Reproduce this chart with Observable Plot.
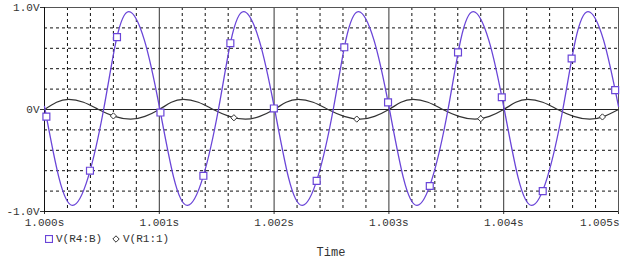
<!DOCTYPE html>
<html>
<head>
<meta charset="utf-8">
<script src="https://cdn.jsdelivr.net/npm/d3@7"></script>
<script src="https://cdn.jsdelivr.net/npm/@observablehq/plot@0.6"></script>
<style>
  body { margin: 0; background: #fff; }
  #wrap { position: relative; width: 624px; height: 268px; font-family: "Liberation Mono", "DejaVu Sans Mono", monospace; color: #333; }
  #wrap svg.plot { position: absolute; left: 0; top: 0; }
  .lg { position: absolute; font-size: 11px; line-height: 14px; white-space: pre; }
</style>
</head>
<body>
<div id="wrap"></div>
<script>
// ---- data ----
const xTicks = [1.000, 1.001, 1.002, 1.003, 1.004, 1.005];
const xTickLabels = ["1.000s", "1.001s", "1.002s", "1.003s", "1.004s", "1.005s"];
const yTicks = [-1, 0, 1];
const yTickLabels = ["-1.0V", "0V", "1.0V"];

// V(R4:B) — blue trace
const blueT = [
  1.000000, 1.000125, 1.000245, 1.000380, 1.000515, 1.000625, 1.000735, 1.000870,
  1.001000, 1.001125, 1.001245, 1.001380, 1.001515, 1.001625, 1.001735, 1.001870,
  1.002000, 1.002125, 1.002245, 1.002380, 1.002515, 1.002625, 1.002735, 1.002870,
  1.003000, 1.003125, 1.003245, 1.003380, 1.003515, 1.003625, 1.003735, 1.003870,
  1.004000, 1.004125, 1.004245, 1.004380, 1.004515, 1.004625, 1.004735, 1.004870,
  1.005000
];
const blueV = [
  0.03, -0.665, -0.94, -0.665, 0.00, 0.68, 0.96, 0.68,
  0.03, -0.665, -0.94, -0.665, 0.00, 0.68, 0.96, 0.68,
  0.03, -0.665, -0.94, -0.665, 0.00, 0.68, 0.96, 0.68,
  0.03, -0.665, -0.94, -0.665, 0.00, 0.68, 0.96, 0.68,
  0.03, -0.665, -0.94, -0.665, 0.00, 0.68, 0.96, 0.68,
  0.03
];
// V(R1:1) — black trace
const blackT = [
  1.000000, 1.000105, 1.000210, 1.000340, 1.000470, 1.000610, 1.000750, 1.000875,
  1.001000, 1.001105, 1.001210, 1.001340, 1.001470, 1.001610, 1.001750, 1.001875,
  1.002000, 1.002105, 1.002210, 1.002340, 1.002470, 1.002610, 1.002750, 1.002875,
  1.003000, 1.003105, 1.003210, 1.003340, 1.003470, 1.003610, 1.003750, 1.003875,
  1.004000, 1.004105, 1.004210, 1.004340, 1.004470, 1.004610, 1.004750, 1.004875,
  1.005000
];
const blackV = [
  0.00, 0.071, 0.10, 0.071, 0.00, -0.067, -0.095, -0.067,
  0.00, 0.071, 0.10, 0.071, 0.00, -0.067, -0.095, -0.067,
  0.00, 0.071, 0.10, 0.071, 0.00, -0.067, -0.095, -0.067,
  0.00, 0.071, 0.10, 0.071, 0.00, -0.067, -0.095, -0.067,
  0.00, 0.071, 0.10, 0.071, 0.00, -0.067, -0.095, -0.067,
  0.00
];
// trace markers
const blueMarkT = [1.0000164, 1.000396, 1.0006316, 1.0010099, 1.001384, 1.001619, 1.001998, 1.0023707,
                   1.0026114, 1.0029925, 1.003356, 1.003602, 1.0039834, 1.00434, 1.0045917, 1.0049708];
const blueMarkV = [-0.07, -0.60, 0.71, -0.03, -0.65, 0.65, 0.01, -0.70, 0.61, 0.07, -0.75, 0.56, 0.12, -0.80, 0.50, 0.19];
const blackMarkT = [1.00060, 1.00165, 1.00272, 1.00380, 1.00486];
const blackMarkV = [-0.063, -0.081, -0.094, -0.090, -0.073];

const seriesNames = ["V(R4:B)", "V(R1:1)"];
const xLabel = "Time";

// ---- build ----
const blue = blueT.map((t, i) => ({t, v: blueV[i]}));
const black = blackT.map((t, i) => ({t, v: blackV[i]}));
const blueM = blueMarkT.map((t, i) => ({t, v: blueMarkV[i]}));
const blackM = blackMarkT.map((t, i) => ({t, v: blackMarkV[i]}));
const yLab = new Map(yTicks.map((d, i) => [d, yTickLabels[i]]));
const xLabRows = xTicks.map((t, i) => ({t, label: xTickLabels[i]}));

const xMinor = d3.range(1, 25).filter(i => i % 5 !== 0).map(i => 1 + i * 0.0002);
const xMajorInner = xTicks.slice(1, -1);
const yMinor = [-0.8, -0.6, -0.4, -0.2, 0.2, 0.4, 0.6, 0.8];

const BLUE = "#6a45d8";
const FONT = "'Liberation Mono', monospace";

const chart = Plot.plot({
  width: 624, height: 230,
  marginLeft: 44, marginRight: 6, marginTop: 7, marginBottom: 19,
  style: {fontFamily: FONT, fontSize: "11px", color: "#333", background: "#fff"},
  x: {domain: [1.000, 1.005], ticks: xTicks, tickFormat: () => "", tickSize: 3, tickPadding: 6, label: null},
  y: {domain: [-1, 1], ticks: yTicks, tickFormat: d => yLab.get(d), tickSize: 4, tickPadding: 1, label: null},
  marks: [
    Plot.ruleY(yMinor, {stroke: "#111", strokeWidth: 1, strokeDasharray: "3,3"}),
    Plot.ruleX(xMinor, {stroke: "#111", strokeWidth: 1, strokeDasharray: "3,3"}),
    Plot.ruleX(xMajorInner, {stroke: "#333", strokeWidth: 1}),
    Plot.ruleY([0], {stroke: "#222", strokeWidth: 1}),
    Plot.frame({stroke: "#555"}),
    Plot.ruleX([1.000], {stroke: "#111"}),
    Plot.ruleY([-1], {stroke: "#111"}),
    Plot.line(black, {x: "t", y: "v", stroke: "#333", strokeWidth: 1.2, curve: "natural"}),
    Plot.line(blue, {x: "t", y: "v", stroke: BLUE, strokeWidth: 1.3, curve: "natural"}),
    Plot.dot(blackM, {x: "t", y: "v", symbol: "diamond2", r: 2.8, stroke: "#333", fill: "#fff", strokeWidth: 1}),
    Plot.dot(blueM, {x: "t", y: "v", symbol: "square", r: 3.9, stroke: BLUE, fill: "#fff", strokeWidth: 1.2}),
    // x tick labels (last one right-aligned so it stays inside, as in the reference)
    Plot.text(xLabRows.slice(0, -1), {x: "t", text: "label", frameAnchor: "bottom", dy: 14, fill: "#333"}),
    Plot.text(xLabRows.slice(-1), {x: "t", text: "label", frameAnchor: "bottom", dy: 14, dx: 1, textAnchor: "end", fill: "#333"})
  ]
});
chart.classList.add("plot");
const wrap = document.getElementById("wrap");
wrap.appendChild(chart);

// legend (HTML below the SVG)
function add(html, style) {
  const d = document.createElement("div");
  d.className = "lg";
  d.setAttribute("style", style);
  d.innerHTML = html;
  wrap.appendChild(d);
  return d;
}
add(`<svg width="8" height="8" style="display:block"><rect x="0.5" y="0.5" width="7" height="7" fill="#fff" stroke="${BLUE}" stroke-width="1.2"/></svg>`, "left:45px; top:235px; line-height:8px;");
add(seriesNames[0], "left:56px; top:232px;");
add(`<svg width="8" height="8" style="display:block"><path d="M4,0.8 L7.2,4 L4,7.2 L0.8,4 Z" fill="#fff" stroke="#333" stroke-width="1"/></svg>`, "left:112px; top:235px; line-height:8px;");
add(seriesNames[1], "left:123px; top:232px;");
add(xLabel, "left:0; width:662px; text-align:center; top:246px; font-size:12px;");
</script>
</body>
</html>
